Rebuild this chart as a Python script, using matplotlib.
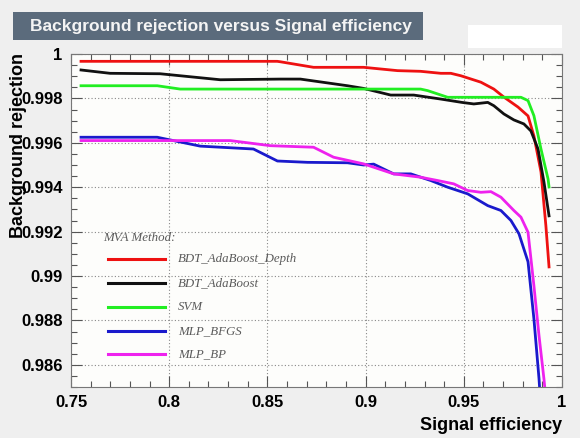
import matplotlib
matplotlib.use("Agg")
import matplotlib.pyplot as plt
from matplotlib.patches import Rectangle
from matplotlib.ticker import MultipleLocator

title = "Background rejection versus Signal efficiency"
xlabel = "Signal efficiency"
ylabel = "Background rejection"
legend_title = "MVA Method:"

names = ["BDT_AdaBoost_Depth", "BDT_AdaBoost", "SVM", "MLP_BFGS", "MLP_BP"]
colors = ["#ee1111", "#111111", "#22ee22", "#1a1acc", "#ee22ee"]

bdtd_x = [0.7551, 0.855, 0.8566, 0.8735, 0.899, 0.9163, 0.928, 0.9383, 0.9434, 0.9485,
          0.9587, 0.9653, 0.9704, 0.9776, 0.9827, 0.9857, 0.9893, 0.9918, 0.9934]
bdtd_y = [0.99967, 0.99967, 0.99965, 0.99940, 0.99940, 0.99925, 0.99922, 0.99913, 0.99913, 0.99902,
          0.99873, 0.99842, 0.99806, 0.99761, 0.99721, 0.99631, 0.99469, 0.99226, 0.99041]

bdt_x = [0.7551, 0.7699, 0.7954, 0.826, 0.8566, 0.8668, 0.8908, 0.899, 0.9128, 0.9245, 0.9383,
         0.949, 0.9551, 0.9622, 0.9653, 0.9704, 0.9755, 0.9806, 0.9842, 0.9878, 0.9908, 0.9934]
bdt_y = [0.99928, 0.99913, 0.99911, 0.99884, 0.99887, 0.99887, 0.99857, 0.99845, 0.99815, 0.99815, 0.99797,
         0.99782, 0.99775, 0.99782, 0.99767, 0.99730, 0.99703, 0.99685, 0.99653, 0.99572, 0.99424, 0.99271]

svm_x = [0.7551, 0.7939, 0.8056, 0.928, 0.9316, 0.9418, 0.9791, 0.9827, 0.9857, 0.9893, 0.9929, 0.9934]
svm_y = [0.99857, 0.99857, 0.99842, 0.99842, 0.99835, 0.99805, 0.99805, 0.99790, 0.99722, 0.99572, 0.99437, 0.99401]

bfgs_x = [0.7551, 0.7939, 0.8158, 0.8429, 0.8551, 0.8704, 0.8908, 0.899, 0.9041, 0.9143, 0.923,
          0.9332, 0.9418, 0.952, 0.9622, 0.9689, 0.974, 0.9781, 0.9827, 0.9857, 0.9883, 0.9893]
bfgs_y = [0.99625, 0.99625, 0.99585, 0.99572, 0.99518, 0.99512, 0.99510, 0.99500, 0.99504, 0.99460, 0.99460,
          0.99430, 0.99400, 0.99370, 0.99317, 0.99295, 0.99250, 0.99190, 0.99064, 0.98807, 0.98537, 0.98400]

bp_x = [0.7551, 0.8311, 0.8515, 0.8735, 0.8837, 0.899, 0.9143, 0.928, 0.9367, 0.9449, 0.952,
        0.9587, 0.9638, 0.9689, 0.9755, 0.9791, 0.9827, 0.9857, 0.9883, 0.9908, 0.9923]
bp_y = [0.9961, 0.9961, 0.99587, 0.9958, 0.99535, 0.99505, 0.9946, 0.99445, 0.9943, 0.99415, 0.99385,
        0.99377, 0.9938, 0.99355, 0.99295, 0.99265, 0.99197, 0.98956, 0.98731, 0.98537, 0.98400]

series = [(bdtd_x, bdtd_y), (bdt_x, bdt_y), (svm_x, svm_y), (bfgs_x, bfgs_y), (bp_x, bp_y)]

W, H = 580, 438
fig = plt.figure(figsize=(W / 100, H / 100), dpi=100, facecolor="#efefef")
ax = fig.add_axes([71 / W, 1 - 387 / H, (562 - 71) / W, (387 - 54) / H])
ax.set_facecolor("#fdfdfb")

for (xs, ys), c in zip(series, colors):
    ax.plot(xs, ys, color=c, lw=2.0, solid_joinstyle="round")

ax.set_xlim(0.75, 1.0)
ax.set_ylim(0.985, 1.0)
ax.xaxis.set_major_locator(MultipleLocator(0.05))
ax.xaxis.set_minor_locator(MultipleLocator(0.01))
ax.yaxis.set_major_locator(MultipleLocator(0.002))
ax.yaxis.set_minor_locator(MultipleLocator(0.0005))
ax.grid(True, which="major", color="#888888", ls=(0, (1, 2)), lw=0.8)
ax.tick_params(which="both", direction="in", top=True, right=True, color="#555555")
ax.tick_params(which="major", length=8, width=0.8, pad=6)
ax.tick_params(which="minor", length=4, width=0.8)
for s in ax.spines.values():
    s.set_color("#777777")

xt = [0.75, 0.8, 0.85, 0.9, 0.95, 1.0]
xtl = ["0.75", "0.8", "0.85", "0.9", "0.95", "1"]
yt = [0.986, 0.988, 0.99, 0.992, 0.994, 0.996, 0.998, 1.0]
ytl = ["0.986", "0.988", "0.99", "0.992", "0.994", "0.996", "0.998", "1"]
ax.set_xticks(xt)
ax.set_xticklabels(xtl, fontsize=12, fontweight="bold", family="Liberation Sans")
ax.set_yticks(yt)
ax.set_yticklabels(ytl, fontsize=12, fontweight="bold", family="Liberation Sans")

fig.text(562 / W, 1 - 425 / H, xlabel, ha="right", va="center", fontsize=13,
         fontweight="bold", family="Liberation Sans")
fig.text(19 / W, 1 - 146 / H, ylabel, ha="center", va="center", rotation=90, fontsize=13,
         fontweight="bold", family="Liberation Sans")

# title box
fig.patches.append(Rectangle((13 / W, 1 - 39.5 / H), (422.5 - 13) / W, 27 / H,
                             transform=fig.transFigure, facecolor="#5b6b7c", edgecolor="none"))
fig.text(30 / W, 1 - 26 / H, title, ha="left", va="center", color="#f4f4f4", fontsize=12.5,
         fontweight="bold", family="Liberation Sans")
fig.patches.append(Rectangle((468 / W, 1 - 48 / H), (562 - 468) / W, 23 / H,
                             transform=fig.transFigure, facecolor="white", edgecolor="none"))

# legend
fig.text(103 / W, 1 - 238 / H, legend_title, ha="left", va="center", fontsize=9.3,
         style="italic", family="Liberation Serif", color="#5a5a5a")
ly = [259, 283, 307, 331, 354]
for name, c, y in zip(names, colors, ly):
    fig.add_artist(plt.Line2D([108 / W, 165 / W], [1 - y / H, 1 - y / H], color=c, lw=2.2,
                              transform=fig.transFigure))
    fig.text(178 / W, 1 - y / H, name, ha="left", va="center", fontsize=9.3,
             style="italic", family="Liberation Serif", color="#5a5a5a")

fig.savefig("out.png", dpi=100, facecolor=fig.get_facecolor())
